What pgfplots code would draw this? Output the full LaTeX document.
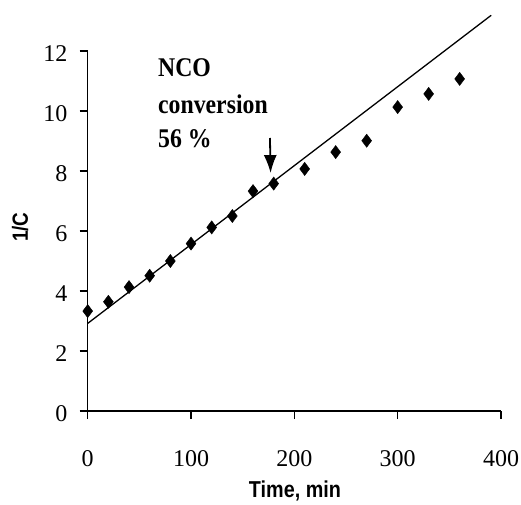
\documentclass[border=0pt]{standalone}
\usepackage{pgfplots}
\pgfplotsset{compat=1.18}
\usepackage{fontspec}
\setmainfont{Liberation Serif}
\newfontfamily\labfont[FakeStretch=0.86]{Liberation Sans}
\newfontfamily\notefont[FakeStretch=0.88]{Liberation Serif}
\usetikzlibrary{arrows.meta}

\begin{document}
\begin{tikzpicture}[x=1pt,y=1pt]
\path[use as bounding box] (0,0) rectangle (521,504);
\begin{axis}[
    at={(87.7pt,93pt)}, anchor=origin,
    scale only axis,
    width=413.3pt, height=360pt,
    xmin=0, xmax=400, ymin=0, ymax=12,
    axis x line=bottom, axis y line=left,
    axis line style={-, line width=1.2pt},
    xtick={0,100,...,400}, ytick={0,2,...,12},
    tick align=outside,
    major tick length=8pt,
    tick style={black, line width=1.2pt},
    clip=false,
    /pgf/number format/assume math mode=true,
    ticklabel style={font=\fontsize{24}{27}\selectfont},
    xticklabel style={anchor=base, yshift=-47pt},
    yticklabel style={anchor=east, inner sep=0pt, xshift=-12pt, yshift=-3pt},
]
\addplot[black, line width=1.3pt, no marks] coordinates {(0,2.92) (390.5,13.19)};
\addplot[only marks, mark=diamond*, mark size=6.6pt, black] coordinates {
    (0,3.33) (20,3.64) (40,4.13) (60,4.51) (80,5.0) (100,5.58)
    (120,6.12) (140,6.5) (160,7.33) (180,7.58) (210,8.07) (240,8.63)
    (270,9.01) (300,10.13) (330,10.57) (360,11.07)
};
\node[anchor=base west, inner sep=0pt, font=\notefont\bfseries\fontsize{27}{30}\selectfont] at (axis cs:68,11.14) {NCO};
\node[anchor=base west, inner sep=0pt, font=\notefont\bfseries\fontsize{27}{30}\selectfont] at (axis cs:68,9.93) {conversion};
\node[anchor=base west, inner sep=0pt, font=\notefont\bfseries\fontsize{27}{30}\selectfont] at (axis cs:68,8.77) {56 \%};
\draw[-{Latex[length=18pt,width=13pt]}, line width=1.8pt] (axis cs:176.4,9.1) -- (axis cs:177,7.93);
\node[anchor=base, inner sep=0pt, font=\labfont\bfseries\fontsize{23}{26}\selectfont] at (axis cs:200.6,-2.88) {Time, min};
\node[anchor=base, rotate=90, inner sep=0pt, font=\labfont\bfseries\fontsize{22}{26}\selectfont] at (axis cs:-57.8,6.13) {1/C};
\end{axis}
\end{tikzpicture}
\end{document}
